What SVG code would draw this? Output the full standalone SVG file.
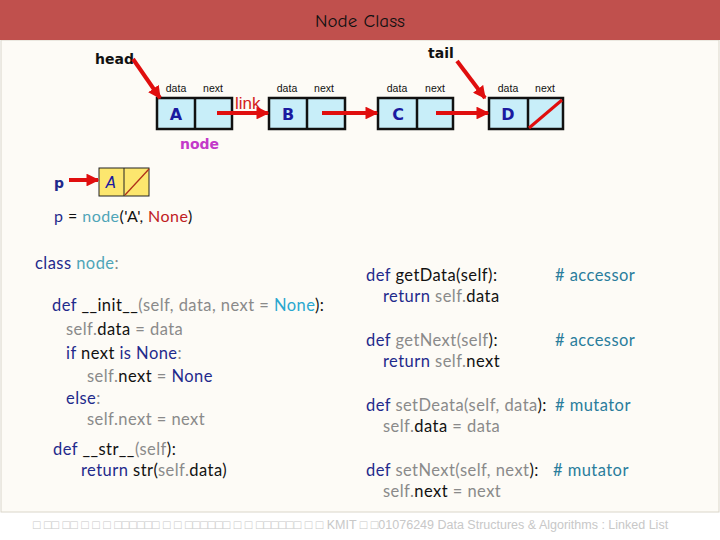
<svg xmlns="http://www.w3.org/2000/svg" width="720" height="540" viewBox="0 0 720 540">
<defs>
<style>
.lbl{font-family:"Liberation Sans",Arial,sans-serif;font-size:10.5px;fill:#111}
.let{font-family:"DejaVu Sans",sans-serif;font-size:16px;font-weight:bold;fill:#1a1aa0;text-anchor:middle}
.box{fill:#C8EEF9;stroke:#111;stroke-width:2.5}
.ybox{fill:#FCE66E;stroke:#222;stroke-width:1}
.arr{stroke:#E00E0E;stroke-width:4;fill:none;marker-end:url(#ah)}
.code{font-family:Lato,"Open Sans",sans-serif;font-size:16.5px;letter-spacing:0.45px;fill:#111}
.kw{fill:#1F2A8C}
.g{fill:#8A8A8A}
.tl{fill:#4FA5B8}
.cy{fill:#2AA7CF}
.cm{fill:#2A7D9C}
.bold{font-family:"DejaVu Sans",sans-serif;font-weight:bold;font-size:14px;fill:#111}
</style>
<marker id="ah" viewBox="0 0 10 10" refX="9" refY="5" markerWidth="3.2" markerHeight="3.2" orient="auto" markerUnits="strokeWidth">
<path d="M0,0 L10,5 L0,10 z" fill="#E00E0E"/>
</marker>
</defs>
<rect x="0" y="0" width="720" height="540" fill="#FFFFFF"/>
<rect x="1" y="40" width="718" height="472" fill="#FDFBF6" stroke="#DAD6CA" stroke-width="1"/>
<rect x="0" y="0" width="720" height="40" fill="#C0504D"/>
<text x="360" y="27" text-anchor="middle" font-family="'Comic Neue','Comic Sans MS','DejaVu Sans',sans-serif" font-size="19" fill="#111">Node Class</text>

<g id="nodeA">
<rect class="box" x="157" y="98" width="75" height="31"/>
<line x1="195" y1="98" x2="195" y2="129" stroke="#111" stroke-width="2.5"/>
<text class="lbl" x="176" y="92" text-anchor="middle">data</text>
<text class="lbl" x="213" y="92" text-anchor="middle">next</text>
<text class="let" x="176" y="120">A</text>
</g>
<g id="nodeB">
<rect class="box" x="269" y="98" width="76" height="31"/>
<line x1="307" y1="98" x2="307" y2="129" stroke="#111" stroke-width="2.5"/>
<text class="lbl" x="287" y="92" text-anchor="middle">data</text>
<text class="lbl" x="324" y="92" text-anchor="middle">next</text>
<text class="let" x="288" y="120">B</text>
</g>
<g id="nodeC">
<rect class="box" x="378" y="98" width="75" height="31"/>
<line x1="417" y1="98" x2="417" y2="129" stroke="#111" stroke-width="2.5"/>
<text class="lbl" x="397" y="92" text-anchor="middle">data</text>
<text class="lbl" x="435" y="92" text-anchor="middle">next</text>
<text class="let" x="398" y="120">C</text>
</g>
<g id="nodeD">
<rect class="box" x="489" y="98" width="74" height="31"/>
<line x1="528" y1="98" x2="528" y2="129" stroke="#111" stroke-width="2.5"/>
<text class="lbl" x="508" y="92" text-anchor="middle">data</text>
<text class="lbl" x="545" y="92" text-anchor="middle">next</text>
<text class="let" x="508" y="120">D</text>
<line x1="529" y1="128" x2="562" y2="100" stroke="#E00E0E" stroke-width="3"/>
</g>
<g id="head">
<text class="bold" x="95" y="64">head</text>
</g>
<g id="tail">
<text class="bold" x="428" y="58">tail</text>
</g>
<g id="nodeLabel">
<text x="180" y="149" font-family="'DejaVu Sans',sans-serif" font-weight="bold" font-size="14" fill="#C339C9">node</text>
</g>
<g id="linkLabel">
<text x="235" y="109" font-family="'Liberation Sans',sans-serif" font-size="17" fill="#D42020">link</text>
</g>
<g id="pnode">
<rect class="ybox" x="99" y="168" width="50" height="28"/>
<line x1="124" y1="168" x2="124" y2="196" stroke="#222" stroke-width="1"/>
<text x="111" y="188" text-anchor="middle" font-family="'DejaVu Sans',sans-serif" font-style="italic" font-size="15" fill="#1a1aa0">A</text>
<line x1="125" y1="195" x2="149" y2="169" stroke="#B0301A" stroke-width="1.3"/>
</g>
<g id="pvar">
<text x="54" y="188" font-family="'DejaVu Sans',sans-serif" font-weight="bold" font-size="14" fill="#1F2A8C">p</text>
</g>

<g id="connectors">
<line class="arr" x1="217" y1="113" x2="268" y2="113"/>
<line class="arr" x1="322" y1="113" x2="377" y2="113"/>
<line class="arr" x1="436" y1="113" x2="488" y2="113"/>
<line class="arr" x1="133" y1="59" x2="160" y2="98"/>
<line class="arr" x1="457" y1="61" x2="485" y2="98"/>
<line class="arr" x1="69" y1="180" x2="98" y2="180"/>
</g>

<text class="code" x="54" y="222" style="font-size:16px"><tspan class="kw">p</tspan> = <tspan class="tl">node</tspan>('A', <tspan fill="#C0201F">None</tspan>)</text>

<text class="code" x="35" y="269"><tspan class="kw">class</tspan> <tspan class="tl">node</tspan><tspan class="g">:</tspan></text>
<text class="code" x="52" y="311"><tspan class="kw">def</tspan> __init__<tspan class="g">(self,  data,  next = </tspan><tspan class="cy">None</tspan>):</text>
<text class="code" x="66" y="335"><tspan class="g">self.</tspan>data <tspan class="g">= data</tspan></text>
<text class="code" x="66" y="359"><tspan class="kw">if</tspan> next <tspan class="kw">is None</tspan><tspan class="g">:</tspan></text>
<text class="code" x="87" y="382"><tspan class="g">self.</tspan>next <tspan class="g">=</tspan> <tspan class="kw">None</tspan></text>
<text class="code" x="66" y="404"><tspan class="kw">else</tspan><tspan class="g">:</tspan></text>
<text class="code" x="87" y="425"><tspan class="g">self.next = next</tspan></text>
<text class="code" x="53" y="455"><tspan class="kw">def</tspan> __str__<tspan class="g">(self</tspan>):</text>
<text class="code" x="81" y="476"><tspan class="kw">return</tspan> str(<tspan class="g">self.</tspan>data)</text>

<text class="code" x="366" y="281"><tspan class="kw">def</tspan> getData(self):</text>
<text class="code" x="555" y="281"><tspan class="cm"># accessor</tspan></text>
<text class="code" x="383" y="302"><tspan class="kw">return</tspan> <tspan class="g">self.</tspan>data</text>
<text class="code" x="366" y="346"><tspan class="kw">def</tspan> <tspan class="g">getNext(self</tspan>):</text>
<text class="code" x="555" y="346"><tspan class="cm"># accessor</tspan></text>
<text class="code" x="383" y="367"><tspan class="kw">return</tspan> <tspan class="g">self.</tspan>next</text>
<text class="code" x="366" y="411"><tspan class="kw">def</tspan> <tspan class="g">setDeata(self, data</tspan>):</text>
<text class="code" x="555" y="411"><tspan class="cm"># mutator</tspan></text>
<text class="code" x="383" y="432"><tspan class="g">self.</tspan>data <tspan class="g">= data</tspan></text>
<text class="code" x="366" y="476"><tspan class="kw">def</tspan> <tspan class="g">setNext(self, next</tspan>):</text>
<text class="code" x="553" y="476"><tspan class="cm"># mutator</tspan></text>
<text class="code" x="383" y="497"><tspan class="g">self.</tspan>next <tspan class="g">= next</tspan></text>

<text x="33" y="529" font-family="'Liberation Sans',sans-serif" font-size="12.5" fill="#C8C8C8">□ □□ □□ □ □ □ □□□□□□ □ □ □□□□□□ □ □ □□□□□□ □ □ KMIT □ □01076249 Data Structures &amp; Algorithms : Linked List</text>
</svg>
